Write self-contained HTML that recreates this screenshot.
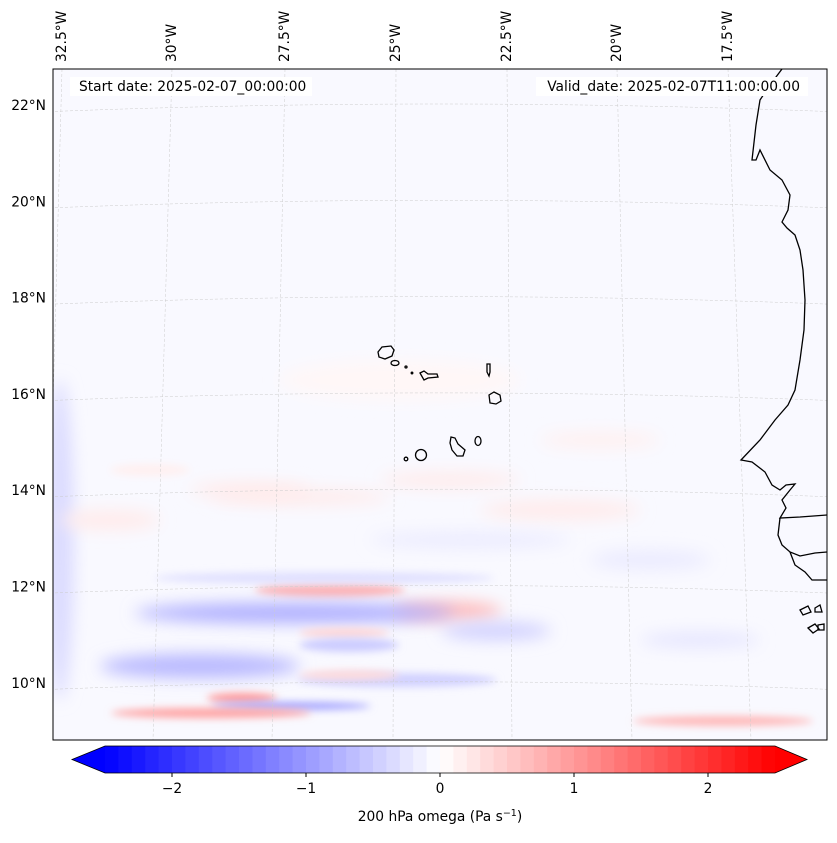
<!DOCTYPE html>
<html><head><meta charset="utf-8"><style>
body{margin:0;background:#fff;font-family:"DejaVu Sans","Liberation Sans",sans-serif}
svg text{font-family:"DejaVu Sans","Liberation Sans",sans-serif;font-size:13.8px;fill:#000}
</style></head><body>
<svg width="837" height="839" viewBox="0 0 837 839">
<defs>
<clipPath id="pc"><rect x="53" y="69" width="774" height="671"/></clipPath>
<filter id="bl" x="-50%" y="-100%" width="200%" height="300%"><feGaussianBlur stdDeviation="8"/></filter>
<filter id="bl2" x="-50%" y="-100%" width="200%" height="300%"><feGaussianBlur stdDeviation="4"/></filter>
</defs>
<g clip-path="url(#pc)">
<rect x="53" y="69" width="774" height="671" fill="#f9f9ff"/>
<g id="field"></g>
<g id="grid"></g>
<g fill="none" stroke="#000" stroke-width="1.3">
<path d="M782,69 L770,85 L760,100 L756,125 L752,160 L756,160 L760,150 L770,170 L782,180 L790,195 L788,210 L782,222 L787,228 L795,235 L800,250 L803,270 L805,300 L804,330 L800,360 L795,390 L788,405 L775,420 L760,440 L741,460 L752,462 L765,472 L772,485 L780,490 L786,485 L795,484 L790,490 L782,500 L786,508 L780,518 L800,517 L827,515"/>
<path d="M780,518 L778,535 L782,545 L790,552 L800,556 L815,553 L827,552"/>
<path d="M790,552 L795,565 L805,572 L812,580 L827,580"/>
<path d="M800,610 l8,-4 l3,6 l-8,3 z M815,608 l5,-3 l2,7 l-7,0 z M808,628 l7,-4 l4,5 l-6,4 z M818,625 l6,-1 l0,6 l-6,0 z"/>
</g>
<g fill="none" stroke="#000" stroke-width="1.3">
<path d="M378,352 L382,347 L391,346 L394,350 L392,356 L385,359 L379,357 Z"/>
<ellipse cx="395" cy="363" rx="4" ry="2.5"/>
<circle cx="406" cy="367" r="1"/><circle cx="412" cy="373" r="0.8"/>
<path d="M420,373 L424,371 L428,374 L437,374 L438,377 L428,378 L424,380 Z"/>
<path d="M487,364 L490,364 L490,372 L489,376 L487,372 Z"/>
<path d="M489,395 L494,392 L500,395 L501,401 L496,404 L490,403 Z"/>
<ellipse cx="478" cy="441" rx="3" ry="4.5"/>
<path d="M451,437 L455,438 L458,444 L465,450 L463,456 L457,456 L452,450 L450,443 Z"/>
<circle cx="421" cy="455" r="5.5"/>
<circle cx="406" cy="459" r="1.8"/>
</g>
<rect x="70" y="77" width="242" height="19" fill="#fff"/>
<rect x="536" y="77" width="272" height="19" fill="#fff"/>
<text x="79" y="91">Start date: 2025-02-07_00:00:00</text>
<text x="800" y="91" text-anchor="end">Valid_date: 2025-02-07T11:00:00.00</text>
</g>
<rect x="53" y="69" width="774" height="671" fill="none" stroke="#000" stroke-width="1"/>
<g id="lab"></g>
<g id="cbar"></g>
<text x="440" y="821" text-anchor="middle">200 hPa omega (Pa s<tspan dy="-5" font-size="9.5">−1</tspan><tspan dy="5">)</tspan></text>
</svg>
<script>
const NS='http://www.w3.org/2000/svg';
const latTicks=[22,20,18,16,14,12,10];
const lonTicks=[32.5,30,27.5,25,22.5,20,17.5];
const lonTop=[62,172,285,396,507,617,728];
const lonBot=[44,153,272,393,512,632,751];
const cbTicks=[-2,-1,0,1,2];
const cbLevels=[];for(let i=-25;i<25;i++)cbLevels.push(i/10);
// field blobs: x, y, rx, ry, omega value
const blobX=[330,447,295,496,344,349,200,397,349,242,291,211,723,324,60,300,560,250,600,450,150,110,700,470,400,650];
const blobY=[590,611,613,631,633,645,666,680,675,698,706,713,721,578,540,497,510,490,440,480,470,520,640,540,380,560];
const blobRX=[75,55,160,55,45,50,100,100,50,35,80,100,90,170,14,90,80,60,60,70,40,50,60,100,120,60];
const blobRY=[7,9,10,9,5,7,12,7,5,5,4,5,5,6,160,8,10,8,8,8,6,10,8,8,20,10];
const blobV=[0.75,0.7,-0.8,-0.45,0.4,-0.5,-0.7,-0.45,0.35,1.0,-0.9,0.9,0.7,-0.3,-0.35,0.2,0.2,0.2,0.15,0.2,0.15,0.2,-0.25,-0.2,0.08,-0.2];
const cx=v=>105+(v+2.5)*134;
function col(v){const t=Math.max(-1,Math.min(1,v/2.5));
 if(t<0){const c=Math.round(255*(1+t));return `rgb(${c},${c},255)`;}
 const c=Math.round(255*(1-t));return `rgb(255,${c},${c})`;}
function mk(tag,at,p){const e=document.createElementNS(NS,tag);for(const k in at)e.setAttribute(k,at[k]);p.appendChild(e);return e;}
const latY=l=>106+(22-l)*48.15;
const F=document.getElementById('field');
blobX.forEach((x,i)=>{const e=mk('ellipse',{cx:x,cy:blobY[i],rx:blobRX[i],ry:blobRY[i],fill:col(blobV[i]),filter:(blobRY[i]<8?'url(#bl2)':'url(#bl)')},F);

});
const G=document.getElementById('grid');const L=document.getElementById('lab');
latTicks.forEach(l=>{const y=latY(l);
 const p=mk('path',{d:`M40,${y+6} Q440,${y-10} 840,${y+6}`,fill:'none',stroke:'#ccc','stroke-width':0.5,'stroke-dasharray':'3,2'},G);
 
 const t=mk('text',{x:46,y:y+4,'text-anchor':'end'},L);t.textContent=l+'°N';
 });
lonTicks.forEach((l,i)=>{
 const p=mk('line',{x1:lonTop[i],y1:69,x2:lonBot[i],y2:740,stroke:'#ccc','stroke-width':0.5,'stroke-dasharray':'3,2'},G);
 
 const x=lonTop[i]+4;const t=mk('text',{x:x,y:62,transform:`rotate(-90 ${x} 62)`},L);t.textContent=l+'°W';
 });
const C=document.getElementById('cbar');
cbLevels.forEach(v=>{const r=mk('rect',{x:cx(v),y:746,width:134*0.1+0.5,height:27,fill:col(v+0.05)},C);
 });
let tr=mk('polygon',{points:`${cx(-2.5)},746 ${cx(-2.5)},773 72,759.5`,fill:col(-2.6)},C);

tr=mk('polygon',{points:`${cx(2.5)},746 ${cx(2.5)},773 807,759.5`,fill:col(2.6)},C);

mk('polygon',{points:`72,759.5 ${cx(-2.5)},746 ${cx(2.5)},746 807,759.5 ${cx(2.5)},773 ${cx(-2.5)},773`,fill:'none',stroke:'#000','stroke-width':0.8},C);
cbTicks.forEach(v=>{mk('line',{x1:cx(v),y1:773,x2:cx(v),y2:777,stroke:'#000'},C);
 const t=mk('text',{x:cx(v),y:793,'text-anchor':'middle'},C);t.textContent=v<0?'−'+(-v):String(v);
 });
</script>
</body></html>
